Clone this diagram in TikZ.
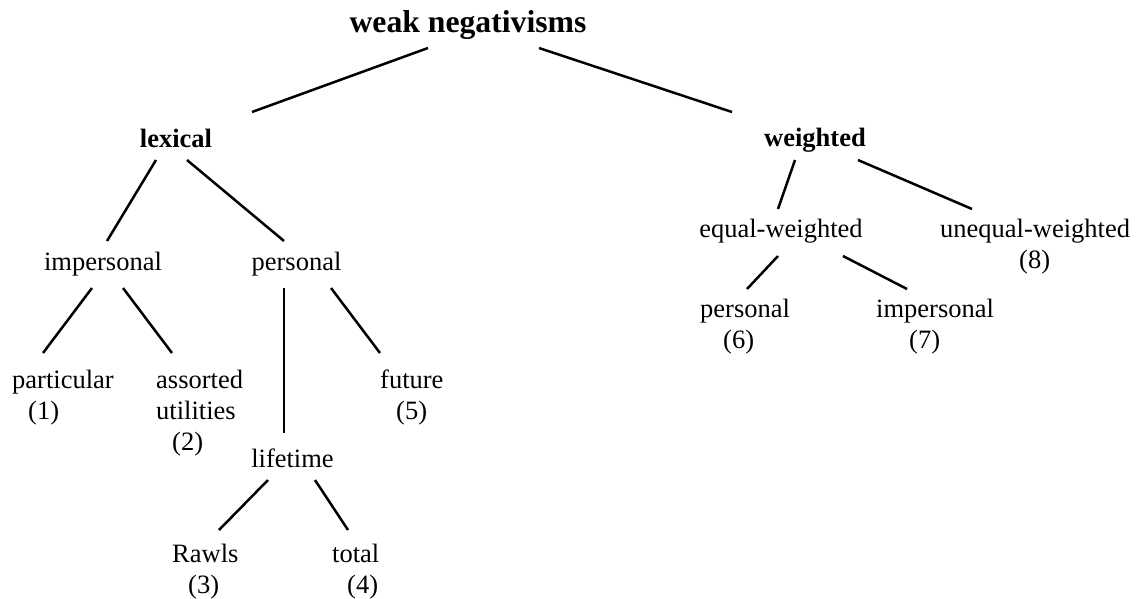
\documentclass[tikz,border=0pt]{standalone}
\usepackage{fontspec}
\setmainfont{Liberation Serif}
\begin{document}
\begin{tikzpicture}[x=1pt,y=-1pt,
  lbl/.style={inner sep=0pt, align=left, font=\fontsize{26.5}{31}\selectfont},
  head/.style={lbl, font=\fontsize{26.5}{31}\selectfont\bfseries},
  rootlbl/.style={lbl, font=\fontsize{31.7}{38}\selectfont\bfseries},
  edge/.style={line width=2.5pt}]
\useasboundingbox (0,0) rectangle (1140,598);

% tree labels (multi-line labels are placed by the baseline of their last line)
\node[rootlbl, anchor=base] (T) at (468,32) {weak negativisms};
\node[head, anchor=base] (lex) at (176,147) {lexical};
\node[head, anchor=base] (wgt) at (815,146) {weighted};
\node[lbl, anchor=base] (imp) at (103,270) {impersonal};
\node[lbl, anchor=base] (per) at (296.5,270) {personal};
\node[lbl, anchor=base west] (par) at (12,419) {particular\\\hspace*{16pt}(1)};
\node[lbl, anchor=base west] (ass) at (156,450) {assorted\\utilities\\\hspace*{16pt}(2)};
\node[lbl, anchor=base west] (fut) at (380,419) {future\\\hspace*{16pt}(5)};
\node[lbl, anchor=base] (lif) at (292.5,467) {lifetime};
\node[lbl, anchor=base west] (raw) at (172,593) {Rawls\\\hspace*{16pt}(3)};
\node[lbl, anchor=base west] (tot) at (332,593) {total\\\hspace*{15pt}(4)};
\node[lbl, anchor=base] (eq) at (781,237) {equal-weighted};
\node[lbl, anchor=base west] (uneq) at (940,268) {unequal-weighted\\\hspace*{79pt}(8)};
\node[lbl, anchor=base west] (p6) at (700,348) {personal\\\hspace*{23pt}(6)};
\node[lbl, anchor=base west] (i7) at (876,348) {impersonal\\\hspace*{33pt}(7)};

% branches
\draw[edge] ([shift={(-40,16)}]T.base) -- ([shift={(76,-35)}]lex.base);
\draw[edge] ([shift={(71,16)}]T.base) -- ([shift={(-83,-34)}]wgt.base);
\draw[edge] ([shift={(-20,13)}]lex.base) -- ([shift={(4,-29)}]imp.base);
\draw[edge] ([shift={(11,13)}]lex.base) -- ([shift={(-12.5,-29)}]per.base);
\draw[edge] ([shift={(-11,18)}]imp.base) -- ([shift={(31,-66)}]par.base west);
\draw[edge] ([shift={(20,18)}]imp.base) -- ([shift={(16,-97)}]ass.base west);
\draw[edge] ([shift={(-12.5,18)}]per.base) -- ([shift={(-8.5,-34)}]lif.base);
\draw[edge] ([shift={(34.5,18)}]per.base) -- ([shift={(0,-66)}]fut.base west);
\draw[edge] ([shift={(-24.5,13)}]lif.base) -- ([shift={(47,-63)}]raw.base west);
\draw[edge] ([shift={(22.5,13)}]lif.base) -- ([shift={(16,-63)}]tot.base west);
\draw[edge] ([shift={(-20,14)}]wgt.base) -- ([shift={(-3,-28)}]eq.base);
\draw[edge] ([shift={(43,14)}]wgt.base) -- ([shift={(32,-59)}]uneq.base west);
\draw[edge] ([shift={(-3,19)}]eq.base) -- ([shift={(47,-59)}]p6.base west);
\draw[edge] ([shift={(62,19)}]eq.base) -- ([shift={(31,-59)}]i7.base west);
\end{tikzpicture}
\end{document}
